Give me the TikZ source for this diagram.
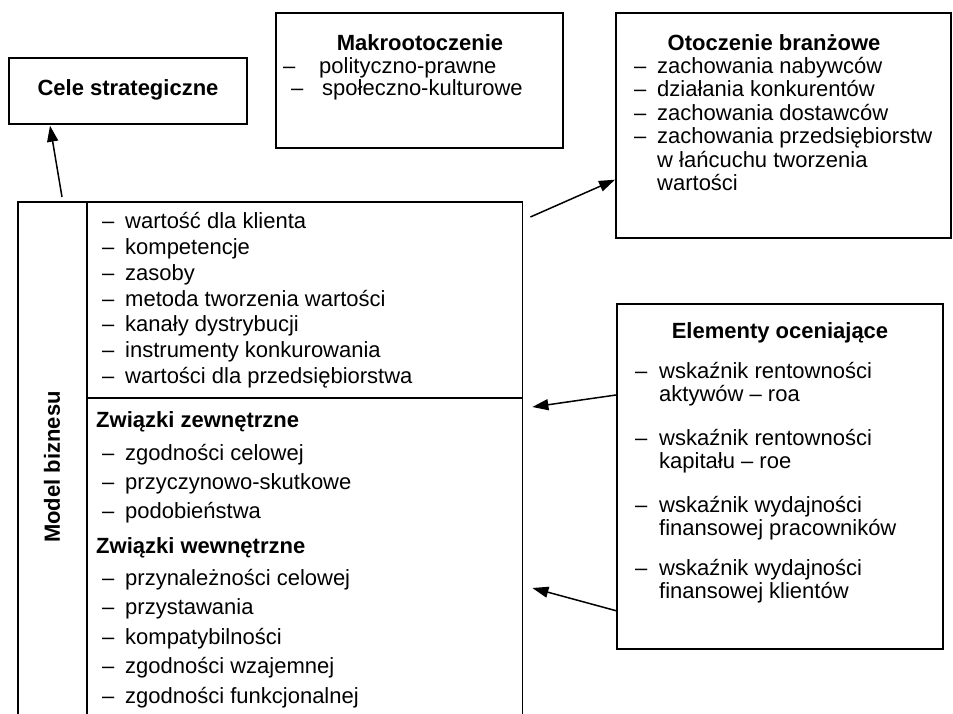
\documentclass[tikz,border=0pt]{standalone}
\usepackage{fontspec}
\setmainfont{Liberation Sans}
\usetikzlibrary{calc,arrows.meta}
\begin{document}
\begin{tikzpicture}[x=1pt,y=-1pt,
  box/.style={draw,line width=1.7pt,inner sep=0pt,anchor=north west},
  txt/.style={inner sep=0pt,anchor=west,text height=16pt,text depth=4.8pt,font=\fontsize{22}{26}\selectfont},
  ttl/.style={inner sep=0pt,anchor=center,font=\fontsize{22}{26}\selectfont\bfseries},
  arr/.style={-{Triangle[length=16pt,width=11pt]},line width=1.5pt}]
\useasboundingbox (0,0) rectangle (953,714);

% boxes
\node[box,minimum width=238pt,minimum height=66pt] (cele) at (8,57) {};
\node[box,minimum width=287pt,minimum height=135pt] (makro) at (275,12) {};
\node[box,minimum width=335pt,minimum height=225pt] (oto) at (615,12) {};
\node[box,minimum width=326pt,minimum height=345pt] (ele) at (616,303) {};
\node[inner sep=0pt,anchor=north west,minimum width=504pt,minimum height=512pt] (model) at (18,202) {};
\draw[line width=1.7pt] (model.south west) -- (model.north west) -- (model.north east) -- (model.south east);
\coordinate (divtop) at (87,202);
\coordinate (divbot) at (87,714);
\draw[line width=1.7pt] (divtop) -- (divbot);
\coordinate (hdl) at (87,398);
\coordinate (hdr) at (522,398);
\draw[line width=1.7pt] (hdl) -- (hdr);

% titles
\node[ttl] (celeT) at (128,90) {Cele strategiczne};
\node[ttl] (makroT) at (420,43) {Makrootoczenie};
\node[ttl] (otoT) at (774,43) {Otoczenie branżowe};
\node[ttl] (eleT) at (780,333) {Elementy oceniające};
\node[ttl,rotate=90] (mbT) at (52,467) {Model biznesu};

% Makrootoczenie
\node[txt] (mk1d) at (283,68) {–};
\node[txt] (mk1t) at (319,68) {polityczno-prawne};
\node[txt] (mk2d) at (291,90) {–};
\node[txt] (mk2t) at (322,90) {społeczno-kulturowe};

% Otoczenie branzowe
\foreach \t [count=\i] in {zachowania nabywców, działania konkurentów, zachowania dostawców, zachowania przedsiębiorstw} {
  \node[txt] (od\i) at (634,{68+23.4*(\i-1)}) {–};
  \node[txt] (ot\i) at (657,{68+23.4*(\i-1)}) {\t};
}
\node[txt] (ot5) at (657,162) {w łańcuchu tworzenia};
\node[txt] (ot6) at (657,185) {wartości};

% Elementy oceniajace
\foreach \a/\b/\y [count=\i] in {wskaźnik rentowności/aktywów – roa/373, wskaźnik rentowności/kapitału – roe/440, wskaźnik wydajności/finansowej pracowników/507, wskaźnik wydajności/finansowej klientów/570} {
  \node[txt] (ed\i) at (635,\y) {–};
  \node[txt] (ea\i) at (659,\y) {\a};
  \node[txt] (eb\i) at (659,{\y+23}) {\b};
}

% Model upper
\foreach \t [count=\i] in {wartość dla klienta, kompetencje, zasoby, metoda tworzenia wartości, kanały dystrybucji, instrumenty konkurowania, wartości dla przedsiębiorstwa} {
  \node[txt] (ud\i) at (102,{223+25.8*(\i-1)}) {–};
  \node[txt] (ut\i) at (125,{223+25.8*(\i-1)}) {\t};
}
% Model lower
\node[txt,font=\fontsize{22}{26}\selectfont\bfseries] (zz) at (96,422) {Związki zewnętrzne};
\foreach \t/\y [count=\i] in {zgodności celowej/455, przyczynowo-skutkowe/484, podobieństwa/513} {
  \node[txt] (zd\i) at (102,\y) {–};
  \node[txt] (zt\i) at (125,\y) {\t};
}
\node[txt,font=\fontsize{22}{26}\selectfont\bfseries] (zw) at (96,548) {Związki wewnętrzne};
\foreach \t/\y [count=\i] in {przynależności celowej/580, przystawania/609, kompatybilności/639, zgodności wzajemnej/668, zgodności funkcjonalnej/698} {
  \node[txt] (wd\i) at (102,\y) {–};
  \node[txt] (wt\i) at (125,\y) {\t};
}

% arrows
\draw[arr] ($(model.north west)+(44,-5)$) -- ($(cele.south west)+(42,1)$);
\draw[arr] ($(model.north east)+(8,15)$) -- ($(oto.south west)+(0,-59)$);
\draw[arr] ($(ele.north west)+(0,92)$) -- ($(model.north east)+(10,205)$);
\draw[arr] ($(ele.south west)+(0,-39)$) -- ($(model.north east)+(10,386)$);
\end{tikzpicture}
\end{document}
